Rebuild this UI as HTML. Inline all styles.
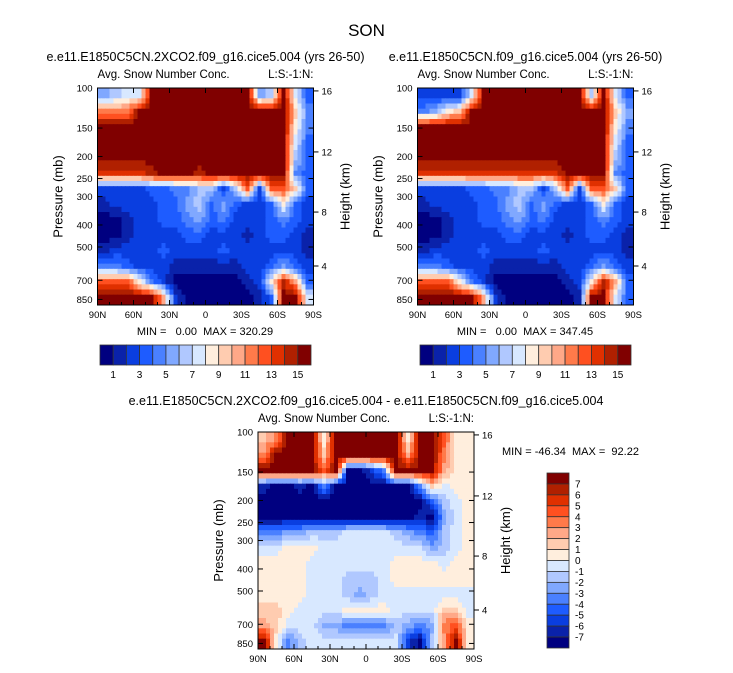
<!DOCTYPE html>
<html><head><meta charset="utf-8"><style>
body{margin:0;background:#fff;}
svg{display:block;font-family:"Liberation Sans",Arial,sans-serif;}
text{white-space:pre;}
</style></head><body>
<svg id="fig" width="733" height="673" viewBox="0 0 733 673"></svg>
<script>
const palette=["#000080","#0a22aa","#0a3ee0","#1e5cff","#4a80ff","#80a8ff","#b0c8ff","#d8e8ff","#ffeedd","#ffccb0","#ffa888","#ff7a4a","#ff5020","#e03000","#b02000","#800000"];
const latLabels=["90N","60N","30N","0","30S","60S","90S"];
const pressTicks=[100,150,200,250,300,400,500,700,850];
const heightLabels=[16,12,8,4];
const heightPress=[103,191,351,606];
const cbLabelsTop=[1,3,5,7,9,11,13,15];
const cbLabelsDiff=[7,6,5,4,3,2,1,0,-1,-2,-3,-4,-5,-6,-7];
const field1=[
"5677fffffffff56f73",
"bbbfffffffffffff94",
"ffffffffffffffff84",
"ffffffffffffffff73",
"ffffffffffffffff63",
"ddddefffefffffff43",
"222233446626c2cc93",
"122223356353223832",
"001223345342223432",
"001222233222123321",
"122223222232222221",
"443222111111223532",
"ccc842000000128ea3",
"fffffa200000013ff73"
];
const field2=[
"22227fffffffff6f73",
"4589ffffffffffff95",
"ffffffffffffffff84",
"ffffffffffffffff73",
"ffffffffffffffff63",
"ddddddddddddffff43",
"222233446626c2cc93",
"122223356353223832",
"001223345342223432",
"001222233222123321",
"122223222232222221",
"443222111111223532",
"ccc842000000128ea3",
"fffffa20000001ff73"
];
const field3=[
"9bfff8ffffff8ffc88",
"bffff9ffffffaffb88",
"fffffcf0024ffffa88",
"100104000000049788",
"000000000000003678",
"000000000000010578",
"445566677776543678",
"778887777777775678",
"888877777778888788",
"888877766678888888",
"888877765677777777",
"998777788887777997",
"a97775544446545bc8",
"f84677777777206af8"
];
const svg=document.getElementById('fig');
const NS='http://www.w3.org/2000/svg';
function el(tag,attrs,parent){const e=document.createElementNS(NS,tag);for(const k in attrs)e.setAttribute(k,attrs[k]);(parent||svg).appendChild(e);return e;}
function txt(x,y,s,size,anchor,parent,rot){const t=el('text',{x:x,y:y,'font-size':size,'text-anchor':anchor||'middle',fill:'#000'},parent);if(rot)t.setAttribute('transform','rotate(-90 '+x+' '+y+')');t.textContent=s;return t;}
const W=216,H=217,K=98.8,SUB=3;
function yP(p,y0){return y0+K*Math.log(p/100);}
function xLat(i,x0){return x0+i*W/6;}
function plot(x0,y0,field,title,name){
  const g=el('g',{},svg);
  
  
  const rows=field.length,cols=18;
  const val=(r,c)=>parseInt(field[Math.max(0,Math.min(rows-1,r))][Math.max(0,Math.min(cols-1,c))],16);
  const nx=cols*SUB,ny=rows*SUB,sw=W/nx,sh=H/ny;
  for(let j=0;j<ny;j++){for(let i=0;i<nx;i++){
    const fx=(i+0.5)/SUB-0.5,fy=(j+0.5)/SUB-0.5;
    const c0=Math.floor(fx),r0=Math.floor(fy),tx=fx-c0,ty=fy-r0;
    const v=(1-ty)*((1-tx)*val(r0,c0)+tx*val(r0,c0+1))+ty*((1-tx)*val(r0+1,c0)+tx*val(r0+1,c0+1));
    const rc=el('rect',{x:(x0+i*sw).toFixed(2),y:(y0+j*sh).toFixed(2),width:(sw+0.5).toFixed(2),height:(sh+0.5).toFixed(2),fill:palette[Math.round(v)]},g);
    
    
  }}
  el('rect',{x:x0,y:y0,width:W,height:H,fill:'none',stroke:'#000','stroke-width':1},g);
  if(title){const t=txt(x0+W/2,y0-27,title,12.5,'middle',g);}
  const a=txt(x0,y0-10,"Avg. Snow Number Conc.",11.5,'start',g);
  const b=txt(x0+W,y0-10,"L:S:-1:N:",11.5,'end',g);
  pressTicks.forEach(p=>{const y=yP(p,y0);el('line',{x1:x0,x2:x0+5,y1:y,y2:y,stroke:'#000'},g);el('line',{x1:x0+W,x2:x0+W-5,y1:y,y2:y,stroke:'#000'},g);
    const t=txt(x0-5,y+3.5,String(p),9.5,'end',g);});
  heightPress.forEach((p,i)=>{const y=yP(p,y0);el('line',{x1:x0+W,x2:x0+W+5,y1:y,y2:y,stroke:'#000'},g);
    const t=txt(x0+W+8,y+3.5,String(heightLabels[i]),9.5,'start',g);});
  latLabels.forEach((l,i)=>{const x=xLat(i,x0);el('line',{x1:x,x2:x,y1:y0+H,y2:y0+H-5,stroke:'#000'},g);el('line',{x1:x,x2:x,y1:y0,y2:y0+5,stroke:'#000'},g);
    for(let m=1;m<3&&i<6;m++){const xm=x+m*W/18;el('line',{x1:xm,x2:xm,y1:y0+H,y2:y0+H-3,stroke:'#000'},g);}
    const t=txt(x,y0+H+13,l,9.5,'middle',g);});
  const py=txt(x0-35,y0+H/2,"Pressure (mb)",13,'middle',g,true);
  const hy=txt(x0+W+36,y0+H/2,"Height (km)",13,'middle',g,true);
}
function hbar(x0,y0,name){
  const g=el('g',{},svg);
  
  
  const bw=211/16;
  palette.forEach((c,i)=>{el('rect',{x:x0+i*bw,y:y0,width:bw,height:20,fill:c,stroke:'#333','stroke-width':0.8},g);});
  cbLabelsTop.forEach(v=>{const t=txt(x0+v*bw,y0+33,String(v),10,'middle',g);});
}
const s=txt(366.5,36,"SON",17,'middle');
plot(97.5,88,field1,"e.e11.E1850C5CN.2XCO2.f09_g16.cice5.004 (yrs 26-50)","panel-2xco2");
plot(417.5,88,field2,"e.e11.E1850C5CN.f09_g16.cice5.004 (yrs 26-50)","panel-control");
plot(258,432,field3,null,"panel-difference");
let m=txt(205,335,"MIN =   0.00  MAX = 320.29",11,'middle');
m=txt(525,335,"MIN =   0.00  MAX = 347.45",11,'middle');
m=txt(502,455,"MIN = -46.34  MAX =  92.22",11,'start');
m=txt(366,405,"e.e11.E1850C5CN.2XCO2.f09_g16.cice5.004 - e.e11.E1850C5CN.f09_g16.cice5.004",12.5,'middle');
hbar(100,345,"colorbar-1");
hbar(420,345,"colorbar-2");
(function(){const g=el('g',{},svg);
  
  
  const bh=175/16,x0=547,y0=473;
  for(let i=0;i<16;i++){el('rect',{x:x0,y:y0+i*bh,width:22,height:bh,fill:palette[15-i],stroke:'#333','stroke-width':0.8},g);}
  cbLabelsDiff.forEach((v,i)=>{const t=txt(x0+28,y0+(i+1)*bh+3.5,String(v),10,'start',g);});
})();
</script>
</body></html>
